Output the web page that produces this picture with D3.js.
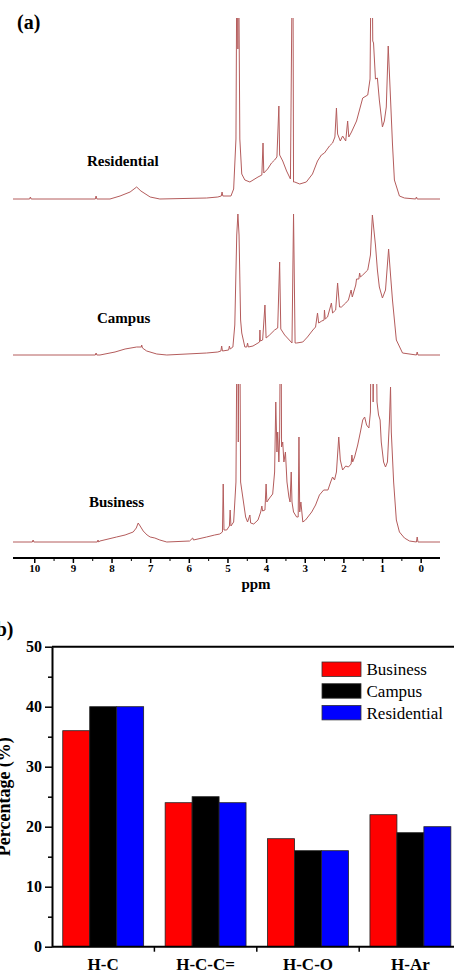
<!DOCTYPE html>
<html>
<head>
<meta charset="utf-8">
<script src="https://cdn.jsdelivr.net/npm/d3@7"></script>
<style>
  body { margin: 0; background: #fff; }
  svg { display: block; font-family: "Times New Roman", "Liberation Serif", serif; }
</style>
</head>
<body>
<div id="chart"></div>
<script>
// ---- panel (a): 1H NMR spectra, [ppm, intensity] ----
const ppmTicks = [10, 9, 8, 7, 6, 5, 4, 3, 2, 1, 0];
const ppmMinor = [9.5, 8.5, 7.5, 6.5, 5.5, 4.5, 3.5, 2.5, 1.5, 0.5];

const residentialNmr = [
  [10.55, 0], [10.12, 0], [10.1, 2], [10.08, 0], [8.42, 0], [8.4, 3], [8.38, 0],
  [8.04, 0], [7.78, 3], [7.52, 7], [7.35, 12], [7.24, 8], [7.0, 2], [6.75, 0],
  [5.54, 1], [5.25, 2], [5.16, 3], [5.14, 7], [5.12, 3], [4.91, 3], [4.84, 10],
  [4.78, 60], [4.75, 300], [4.73, 150], [4.72, 300], [4.68, 60], [4.63, 25],
  [4.55, 19], [4.42, 17], [4.21, 22], [4.11, 24], [4.08, 56], [4.06, 26],
  [3.96, 30], [3.86, 36], [3.78, 39], [3.72, 42], [3.67, 93], [3.65, 44],
  [3.57, 38], [3.47, 28], [3.37, 20], [3.31, 300], [3.29, 17], [3.26, 17],
  [3.13, 15], [2.96, 17], [2.8, 25], [2.67, 38], [2.57, 44], [2.49, 46],
  [2.36, 53], [2.28, 56], [2.22, 62], [2.18, 91], [2.15, 65], [2.08, 58],
  [2.02, 63], [1.94, 58], [1.89, 78], [1.86, 62], [1.79, 67], [1.66, 78],
  [1.5, 101], [1.37, 104], [1.31, 120], [1.27, 300], [1.24, 158], [1.22, 156],
  [1.17, 120], [1.12, 121], [1.07, 99], [0.99, 72], [0.94, 78], [0.89, 92],
  [0.84, 153], [0.78, 100], [0.73, 55], [0.68, 19], [0.55, 3], [0.42, 1],
  [0.13, 0], [0.11, 2], [0.09, 0], [-0.5, 0]
];

const campusNmr = [
  [10.55, 0], [8.42, 0], [8.4, 2], [8.38, 0], [8.3, 0], [7.91, 3], [7.65, 6],
  [7.35, 8], [7.23, 8], [7.22, 10], [7.2, 7], [7.09, 4], [6.83, 1], [6.57, 0],
  [5.54, 2], [5.25, 3], [5.17, 4], [5.15, 9], [5.13, 4], [4.97, 5], [4.95, 9],
  [4.93, 6], [4.86, 8], [4.81, 30], [4.76, 120], [4.73, 141], [4.7, 120],
  [4.66, 35], [4.63, 22], [4.55, 8], [4.5, 8], [4.48, 12], [4.46, 8], [4.34, 9],
  [4.21, 12], [4.17, 13], [4.16, 25], [4.15, 14], [4.09, 15], [4.03, 50],
  [4.0, 17], [3.91, 20], [3.78, 25], [3.7, 27], [3.65, 93], [3.62, 26],
  [3.52, 20], [3.4, 15], [3.33, 12], [3.29, 141], [3.25, 12], [3.21, 12],
  [3.05, 13], [2.93, 18], [2.79, 25], [2.72, 28], [2.67, 42], [2.64, 32],
  [2.56, 34], [2.5, 35], [2.49, 45], [2.47, 36], [2.41, 38], [2.31, 52],
  [2.28, 42], [2.2, 45], [2.15, 72], [2.1, 48], [2.05, 48], [1.94, 52],
  [1.87, 55], [1.8, 65], [1.77, 58], [1.68, 70], [1.66, 76], [1.6, 76],
  [1.58, 82], [1.56, 78], [1.5, 80], [1.37, 85], [1.3, 100], [1.25, 140],
  [1.21, 125], [1.17, 110], [1.12, 85], [1.07, 68], [0.99, 57], [0.91, 65],
  [0.83, 106], [0.78, 80], [0.73, 55], [0.63, 15], [0.47, 2], [0.11, 0],
  [0.09, 3], [0.07, 0], [-0.5, 0]
];

const businessNmr = [
  [10.55, 0], [10.05, 0], [10.03, 2], [10.01, 0], [8.37, 0], [8.35, 2],
  [8.33, 0], [8.3, 1], [7.87, 5], [7.65, 7], [7.44, 10], [7.36, 14], [7.31, 19],
  [7.26, 16], [7.18, 11], [7.08, 7], [7.0, 5], [6.88, 4], [6.75, 2], [6.57, 0],
  [5.98, 1], [5.9, 4], [5.88, 2], [5.54, 5], [5.33, 7], [5.2, 8], [5.13, 10],
  [5.11, 58], [5.09, 12], [5.02, 12], [4.95, 16], [4.93, 32], [4.91, 16],
  [4.84, 20], [4.78, 60], [4.74, 300], [4.72, 100], [4.69, 300], [4.66, 60],
  [4.53, 25], [4.48, 20], [4.42, 27], [4.4, 19], [4.32, 18], [4.21, 22],
  [4.14, 30], [4.11, 36], [4.09, 31], [4.03, 32], [4.0, 58], [3.98, 40],
  [3.91, 44], [3.83, 48], [3.78, 70], [3.75, 140], [3.72, 90], [3.7, 110],
  [3.67, 80], [3.65, 105], [3.62, 300], [3.6, 95], [3.57, 100], [3.54, 80],
  [3.5, 90], [3.46, 60], [3.41, 45], [3.38, 40], [3.35, 70], [3.33, 40],
  [3.29, 30], [3.21, 25], [3.17, 25], [3.15, 105], [3.13, 30], [3.1, 40],
  [3.05, 20], [2.98, 22], [2.82, 30], [2.72, 37], [2.62, 47], [2.51, 52],
  [2.4, 52], [2.33, 60], [2.28, 65], [2.23, 62], [2.18, 70], [2.12, 105],
  [2.08, 82], [2.02, 72], [1.94, 76], [1.87, 75], [1.8, 78], [1.78, 87],
  [1.76, 80], [1.71, 85], [1.63, 97], [1.56, 110], [1.5, 122], [1.45, 125],
  [1.4, 117], [1.34, 114], [1.3, 130], [1.27, 300], [1.23, 140], [1.18, 300],
  [1.13, 140], [1.09, 127], [1.05, 122], [1.02, 100], [0.96, 80], [0.91, 75],
  [0.86, 80], [0.81, 120], [0.78, 155], [0.76, 110], [0.7, 60], [0.63, 22],
  [0.55, 10], [0.42, 4], [0.29, 1], [0.11, 0], [0.09, 5], [0.07, 0], [-0.5, 0]
];

const traceNames = ["Residential", "Campus", "Business"];

// ---- panel (b): proton type percentages ----
const categories = ["H-C", "H-C-C=", "H-C-O", "H-Ar"];
const seriesNames = ["Business", "Campus", "Residential"];
const businessPct = [36, 24, 18, 22];
const campusPct = [40, 25, 16, 19];
const residentialPct = [40, 24, 16, 20];
const yTicks = [0, 10, 20, 30, 40, 50];
const yMinor = [5, 15, 25, 35, 45];

const W = 454, H = 972;
const svg = d3.select("#chart").append("svg")
  .attr("width", W).attr("height", H)
  .attr("viewBox", `0 0 ${W} ${H}`);

// ================= panel (a) =================
const lineColor = "#b45c5c";
const xPpm = d3.scaleLinear().domain([10.55, -0.5]).range([13, 440]);

// baseline y and clip top for each trace (layout only)
const traceLayout = [
  { data: residentialNmr, base: 199, top: 18, label: traceNames[0], lx: 87, ly: 166 },
  { data: campusNmr, base: 355, top: 200, label: traceNames[1], lx: 97, ly: 323 },
  { data: businessNmr, base: 542, top: 384, label: traceNames[2], lx: 89, ly: 507 }
];

const defs = svg.append("defs");
traceLayout.forEach((t, i) => {
  defs.append("clipPath").attr("id", "clip" + i)
    .append("rect").attr("x", 0).attr("y", t.top).attr("width", W).attr("height", t.base - t.top + 10);

  const y = d3.scaleLinear().domain([0, 100]).range([t.base, t.base - 100]);
  const line = d3.line().x(d => xPpm(d[0])).y(d => y(d[1]));

  svg.append("path")
    .datum(t.data)
    .attr("clip-path", `url(#clip${i})`)
    .attr("d", line)
    .attr("fill", "none")
    .attr("stroke", lineColor)
    .attr("stroke-width", 1)
    .attr("stroke-linejoin", "round");

  svg.append("text")
    .attr("x", t.lx).attr("y", t.ly)
    .attr("font-size", 15).attr("font-weight", "bold")
    .text(t.label);
});

svg.append("text").attr("x", 17).attr("y", 29)
  .attr("font-size", 20).attr("font-weight", "bold").text("(a)");

const gA = svg.append("g").attr("transform", "translate(0,558)");
gA.append("g")
  .call(d3.axisBottom(xPpm).tickValues(ppmMinor).tickSize(3).tickFormat(""))
  .call(g => g.select(".domain").remove());
gA.append("g")
  .call(d3.axisBottom(xPpm).tickValues(ppmTicks).tickSize(5).tickSizeOuter(0))
  .call(g => g.select(".domain").attr("stroke-width", 2).attr("d", "M13,0H440"))
  .call(g => g.selectAll(".tick line").attr("stroke-width", 1.5))
  .call(g => g.selectAll("text")
    .attr("y", 14).attr("dy", 0)
    .attr("font-size", 11).attr("font-weight", "bold")
    .attr("font-family", "\"Times New Roman\", \"Liberation Serif\", serif")
    .attr("fill", "#000"));

svg.append("text").attr("x", 256).attr("y", 589)
  .attr("text-anchor", "middle").attr("font-size", 15).attr("font-weight", "bold")
  .text("ppm");

// ================= panel (b) =================
const colors = { Business: "#ff0000", Campus: "#000000", Residential: "#0000ff" };
const pctBySeries = { Business: businessPct, Campus: campusPct, Residential: residentialPct };

const x0 = d3.scaleBand().domain(categories).range([52, 461.6]).paddingInner(0.21).paddingOuter(0.105);
const x1 = d3.scaleBand().domain(seriesNames).range([0, x0.bandwidth()]);
const yB = d3.scaleLinear().domain([0, 50]).range([946.7, 646.7]);

// frame (top and right run off the picture)
svg.append("path")
  .attr("d", `M52,${yB(50)}H480`)
  .attr("stroke", "#000").attr("stroke-width", 2).attr("fill", "none");

const groups = svg.append("g").selectAll("g")
  .data(categories)
  .join("g")
  .attr("transform", d => `translate(${x0(d)},0)`);

groups.selectAll("rect")
  .data((c, i) => seriesNames.map(s => ({ s, v: pctBySeries[s][i] })))
  .join("rect")
  .attr("x", d => x1(d.s))
  .attr("y", d => yB(d.v))
  .attr("width", x1.bandwidth())
  .attr("height", d => yB(0) - yB(d.v))
  .attr("fill", d => colors[d.s])
  .attr("stroke", "#222")
  .attr("stroke-width", 0.8);

// y axis
svg.append("g").attr("transform", "translate(52,0)")
  .call(d3.axisLeft(yB).tickValues(yMinor).tickSize(4).tickFormat(""))
  .call(g => g.select(".domain").remove())
  .call(g => g.selectAll(".tick line").attr("stroke-width", 1.5));
svg.append("g").attr("transform", "translate(52,0)")
  .call(d3.axisLeft(yB).tickValues(yTicks).tickSize(7).tickSizeOuter(0).tickPadding(3))
  .call(g => g.select(".domain").attr("stroke-width", 2))
  .call(g => g.selectAll(".tick line").attr("stroke-width", 1.5))
  .call(g => g.selectAll("text")
    .attr("dy", "0.33em")
    .attr("font-size", 16).attr("font-weight", "bold")
    .attr("font-family", "\"Times New Roman\", \"Liberation Serif\", serif")
    .attr("fill", "#000"));

// x axis with ticks on group boundaries
const boundaries = categories.map(c => x0(c) - x0.step() * x0.paddingInner() / 2);
const gX = svg.append("g").attr("transform", `translate(0,${yB(0)})`);
gX.append("path").attr("d", "M52,0H480").attr("stroke", "#000").attr("stroke-width", 2);
gX.selectAll("line.tk").data(boundaries.slice(1)).join("line")
  .attr("class", "tk")
  .attr("x1", d => d).attr("x2", d => d)
  .attr("y1", 0).attr("y2", 5)
  .attr("stroke", "#000").attr("stroke-width", 1.5);
gX.selectAll("text").data(categories).join("text")
  .attr("x", d => x0(d) + x0.bandwidth() / 2)
  .attr("y", 23.3)
  .attr("text-anchor", "middle")
  .attr("font-size", 17).attr("font-weight", "bold")
  .text(d => d);

svg.append("text")
  .attr("transform", `translate(10,${(yB(0) + yB(50)) / 2}) rotate(-90)`)
  .attr("text-anchor", "middle")
  .attr("font-size", 18).attr("font-weight", "bold")
  .text("Percentage (%)");

svg.append("text").attr("x", -11).attr("y", 636)
  .attr("font-size", 20).attr("font-weight", "bold").text("(b)");

// legend
const legend = svg.append("g").attr("transform", "translate(322,662)");
const lg = legend.selectAll("g").data(seriesNames).join("g")
  .attr("transform", (d, i) => `translate(0,${i * 21.7})`);
lg.append("rect")
  .attr("width", 39).attr("height", 14.5)
  .attr("fill", d => colors[d])
  .attr("stroke", "#333").attr("stroke-width", 0.8);
lg.append("text")
  .attr("x", 44.5).attr("y", 13.3)
  .attr("font-size", 17)
  .text(d => d);
</script>
</body>
</html>
